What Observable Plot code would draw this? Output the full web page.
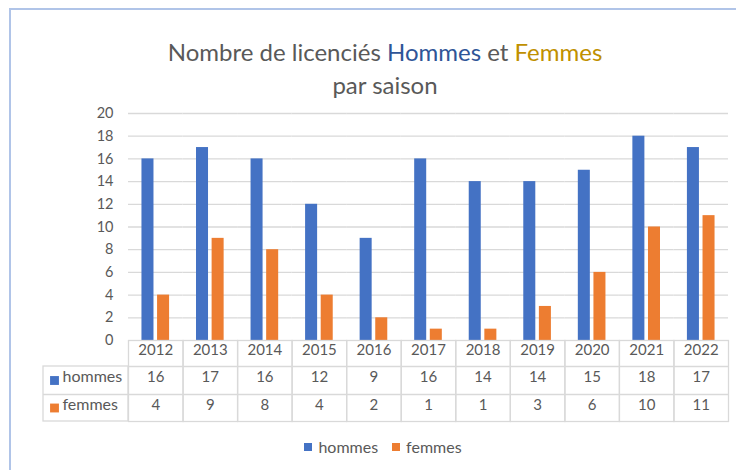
<!DOCTYPE html>
<html><head><meta charset="utf-8">
<script src="https://cdn.jsdelivr.net/npm/d3@7"></script>
<script src="https://cdn.jsdelivr.net/npm/@observablehq/plot@0.6"></script>
<style>
body{margin:0;background:#fff;}
#wrap{position:relative;width:736px;height:470px;overflow:hidden;font-family:Lato,sans-serif;background:#fff;}
#border{position:absolute;left:9px;top:8px;width:1000px;height:1000px;border-left:2px solid #b0c4e8;border-top:2px solid #b0c4e8;}
#chart{position:absolute;left:0;top:0;}
#title{position:absolute;left:0;width:770px;top:35px;text-align:center;font-size:24px;color:#595959;line-height:33px;}
#legend{position:absolute;left:0;width:766px;top:437px;display:flex;justify-content:center;gap:14px;font-size:16px;color:#595959;}
#legend span.item{display:flex;align-items:center;gap:6px;}
#legend span.sw{display:inline-block;width:8px;height:8px;}
</style></head>
<body>
<div id="wrap">
  <div id="border"></div>
  <div id="chart"></div>
  <div id="title"></div>
  <div id="legend"></div>
</div>
<script>
const years = ["2012","2013","2014","2015","2016","2017","2018","2019","2020","2021","2022"];
const hommes = [16,17,16,12,9,16,14,14,15,18,17];
const femmes = [4,9,8,4,2,1,1,3,6,10,11];
const seriesNames = ["hommes","femmes"];
const seriesColors = ["#4472c4","#ed7d31"];
const yTicks = [0,2,4,6,8,10,12,14,16,18,20];
const titleParts = [["Nombre de licenciés ","#595959"],["Hommes","#2f5597"],[" et ","#595959"],["Femmes","#bf9000"]];
const subtitle = "par saison";

const W = 736, H = 470, mL = 128, mR = 8, mT = 113, mB = 130;
const frameH = H - mT - mB;
const rowH = [26, 28, 27];
const tableH = rowH[0] + rowH[1] + rowH[2];
const headW = 85;
const facetW = (W - mL - mR) / years.length;
const lineColor = "#d9d9d9";
const textColor = "#595959";
const tOff = 1.5;
const r1 = rowH[0] / 2 + tOff, r2 = rowH[0] + rowH[1] / 2 + tOff, r3 = rowH[0] + rowH[1] + rowH[2] / 2 + tOff;

const long = years.flatMap((y, i) => [
  {year: y, series: seriesNames[0], value: hommes[i]},
  {year: y, series: seriesNames[1], value: femmes[i]}
]);
const rows = years.map((y, i) => ({year: y, hommes: hommes[i], femmes: femmes[i]}));
const first = [{year: years[0]}];

const chart = Plot.plot({
  width: W, height: H,
  marginLeft: mL, marginRight: mR, marginTop: mT, marginBottom: mB,
  style: {fontFamily: "Lato, sans-serif", background: "transparent", overflow: "visible"},
  fx: {domain: years, padding: 0, round: false, axis: null},
  x: {domain: seriesNames, paddingInner: 0.23, paddingOuter: 0.862, round: false, axis: null},
  y: {domain: [0, 20]},
  color: {domain: seriesNames, range: seriesColors},
  marks: [
    Plot.gridY(yTicks.filter(t => t > 0), {stroke: lineColor, strokeOpacity: 1, strokeWidth: 1.3}),
    Plot.barY(long, {fx: "year", x: "series", y: "value", fill: "series"}),
    Plot.axisY(yTicks, {tickSize: 0, tickPadding: 15, fontSize: 14.5, fill: textColor, label: null}),
    // data table
    Plot.frame({stroke: lineColor, strokeWidth: 1.3, insetTop: frameH, insetBottom: -tableH}),
    Plot.ruleY([0], {dy: rowH[0], stroke: lineColor, strokeWidth: 1.3}),
    Plot.ruleY([0], {dy: rowH[0] + rowH[1], stroke: lineColor, strokeWidth: 1.3}),
    Plot.rect(first, {fx: "year", insetLeft: -headW, insetRight: facetW, insetTop: frameH + rowH[0], insetBottom: -tableH, stroke: lineColor, strokeWidth: 1.3, fill: "none"}),
    Plot.ruleY(first, {fx: "year", y: () => 0, dy: rowH[0] + rowH[1], insetLeft: -headW, insetRight: facetW, stroke: lineColor, strokeWidth: 1.3}),
    Plot.text(rows, {fx: "year", text: "year", frameAnchor: "bottom", dy: r1, fontSize: 15, fill: textColor}),
    Plot.text(rows, {fx: "year", text: "hommes", frameAnchor: "bottom", dy: r2, fontSize: 15, fill: textColor}),
    Plot.text(rows, {fx: "year", text: "femmes", frameAnchor: "bottom", dy: r3, fontSize: 15, fill: textColor}),
    // row headers
    Plot.dot(first, {fx: "year", frameAnchor: "bottom-left", dx: -74, dy: r2 - tOff, symbol: "square", r: 5, fill: seriesColors[0]}),
    Plot.dot(first, {fx: "year", frameAnchor: "bottom-left", dx: -74, dy: r3 - tOff, symbol: "square", r: 5, fill: seriesColors[1]}),
    Plot.text(first, {fx: "year", text: () => seriesNames[0], frameAnchor: "bottom-left", textAnchor: "start", dx: -66, dy: r2, fontSize: 16, fill: textColor}),
    Plot.text(first, {fx: "year", text: () => seriesNames[1], frameAnchor: "bottom-left", textAnchor: "start", dx: -66, dy: r3, fontSize: 16, fill: textColor})
  ]
});
document.getElementById("chart").appendChild(chart);

const t = document.getElementById("title");
const l1 = document.createElement("div");
titleParts.forEach(([s, c]) => { const sp = document.createElement("span"); sp.textContent = s; sp.style.color = c; l1.appendChild(sp); });
t.appendChild(l1);
const l2 = document.createElement("div"); l2.textContent = subtitle; t.appendChild(l2);

const lg = document.getElementById("legend");
seriesNames.forEach((n, i) => {
  const it = document.createElement("span"); it.className = "item";
  const sw = document.createElement("span"); sw.className = "sw"; sw.style.background = seriesColors[i];
  const tx = document.createElement("span"); tx.textContent = n;
  it.appendChild(sw); it.appendChild(tx); lg.appendChild(it);
});
</script>
</body></html>
